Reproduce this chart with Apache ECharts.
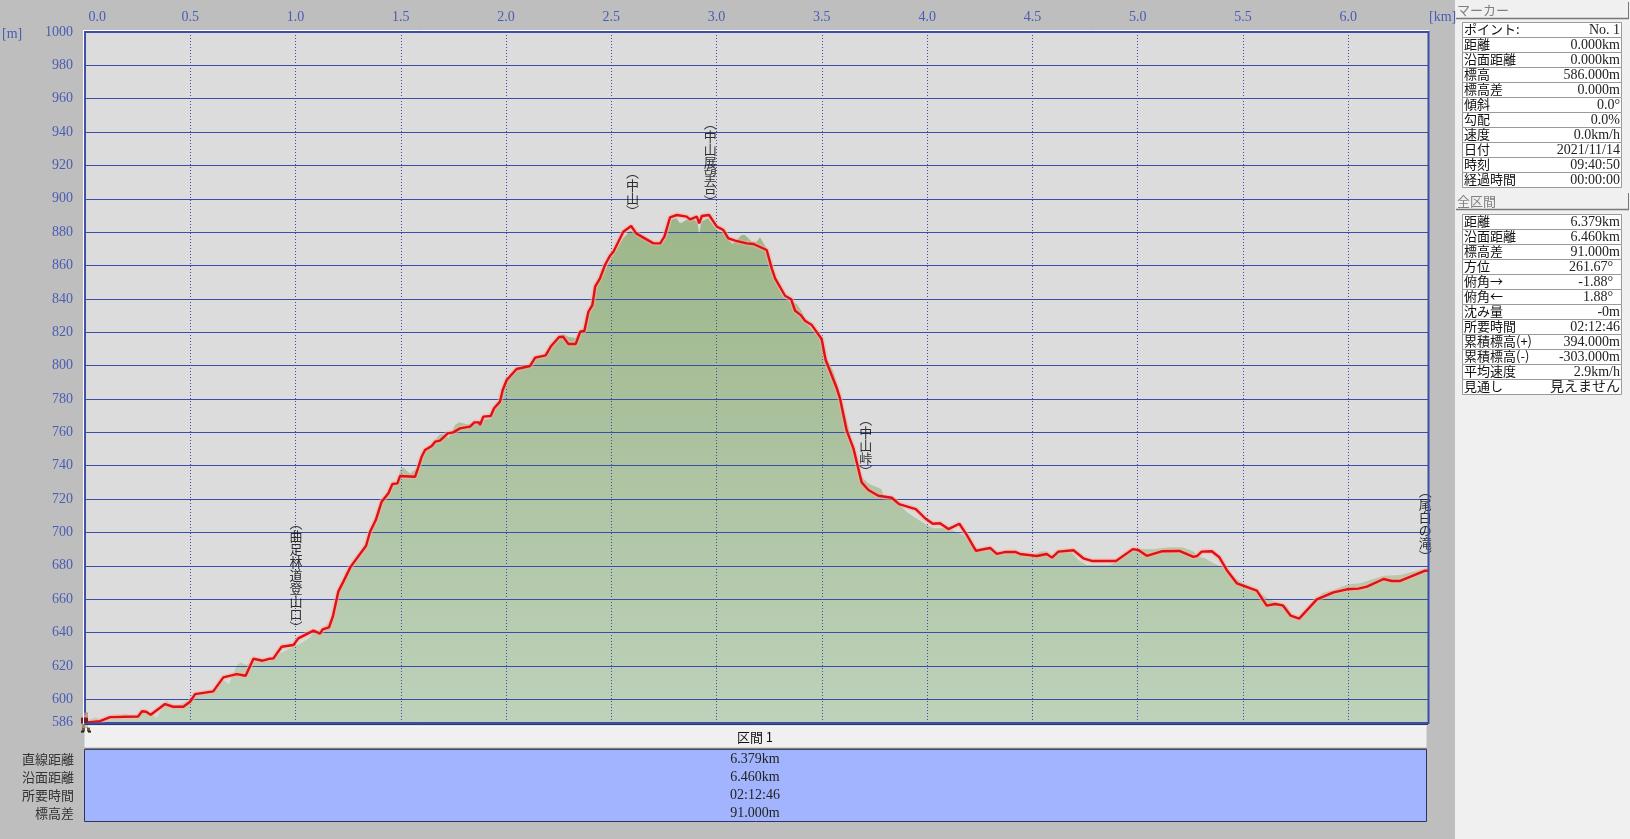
<!DOCTYPE html>
<html>
<head>
<meta charset="utf-8">
<title>profile</title>
<style>
	html,body{margin:0;padding:0;background:#bebebe;overflow:hidden}
	#chart{width:1630px;height:839px}
</style>
<script src="https://cdn.jsdelivr.net/npm/echarts@6/dist/echarts.min.js"></script>
</head>
<body>
<div id="chart"></div>
<script>
// track line: [km, m]
var routeKm=[0,.071,.119,.252,.271,.290,.312,.380,.419,.467,.499,.523,.609,.657,.721,.763,.800,.844,.879,.895,.934,.990,1.013,1.085,1.116,1.129,1.159,1.177,1.203,1.227,1.262,1.335,1.354,1.381,1.409,1.441,1.460,1.484,1.496,1.568,1.583,1.599,1.615,1.647,1.663,1.686,1.723,1.749,1.781,1.829,1.849,1.872,1.876,1.892,1.927,1.943,1.971,1.984,2.003,2.050,2.114,2.138,2.188,2.214,2.252,2.271,2.296,2.331,2.352,2.372,2.391,2.410,2.423,2.446,2.470,2.494,2.510,2.557,2.594,2.618,2.700,2.732,2.752,2.779,2.811,2.858,2.874,2.906,2.917,2.930,2.964,3.001,3.032,3.056,3.088,3.143,3.175,3.238,3.262,3.278,3.325,3.354,3.373,3.400,3.420,3.452,3.499,3.518,3.571,3.586,3.618,3.650,3.689,3.721,3.768,3.832,3.867,3.946,3.990,4.027,4.061,4.101,4.153,4.188,4.232,4.267,4.299,4.331,4.373,4.418,4.441,4.521,4.568,4.593,4.623,4.695,4.742,4.782,4.897,4.977,5.003,5.043,5.114,5.198,5.265,5.283,5.304,5.352,5.388,5.423,5.471,5.566,5.613,5.653,5.689,5.727,5.767,5.851,5.930,5.994,6.049,6.089,6.168,6.207,6.247,6.366,6.379];
var routeElev=[586,586.9,589.3,589.7,592.8,592.5,590.7,597.1,595.5,595.5,598.5,603.1,604.7,613.1,615.1,614.1,624.3,623.1,624.3,624.5,631.5,632.5,636.5,641.1,639.3,641.9,643.1,649.5,664.5,670.5,679.5,692,700.4,707.4,718.4,723.5,729,729.4,733.8,733.4,739,745.4,749.4,751.8,754.4,755,759.4,760,762.4,763.4,766,766,764.4,769.4,769.8,774.4,778.4,785.4,791.4,798,799.8,804.8,806.1,811.8,817.2,817.3,813,813,820.3,820.9,832.3,836.3,847.3,852.3,860.3,865.9,868.3,880.3,883.7,879.3,873.3,873.3,877.3,888.9,890.3,889.3,887.7,889.3,885.3,889.7,890.3,883.3,881.3,876.3,874.9,873.3,872.9,869.3,858.3,852.3,841.9,839.8,832.9,830.3,826.9,824.3,816,803.4,786.4,780.4,761,750.4,730,725.4,722,720.8,717,714,708.5,705.2,705.5,702,705.2,698.5,688.9,689.9,690.7,687.1,688.3,688.3,687.1,685.9,687.1,684.9,688.5,689.3,684.5,682.9,682.9,690,689.5,686,688.7,688.9,685.3,685.9,688.5,688.7,685.1,677.5,669.5,665.1,656.1,657.1,656.3,650.1,648.3,659.9,664.1,665.9,666.3,667.5,672.1,670.9,670.9,677.1,677];

// ground under the track
var groundKm=[0,.048,.086,.119,.166,.190,.214,.252,.276,.309,.341,.388,.418,.467,.499,.523,.608,.626,.656,.684,.721,.740,.768,.792,.879,.893,.934,.988,1.021,1.069,1.093,1.129,1.178,1.203,1.227,1.262,1.335,1.354,1.381,1.409,1.441,1.460,1.484,1.496,1.512,1.544,1.576,1.599,1.623,1.663,1.686,1.710,1.726,1.758,1.777,1.813,1.845,1.876,1.891,1.927,1.943,1.971,1.984,2.003,2.050,2.114,2.138,2.188,2.214,2.252,2.271,2.296,2.331,2.352,2.372,2.391,2.423,2.470,2.508,2.556,2.589,2.618,2.699,2.732,2.752,2.787,2.811,2.823,2.836,2.866,2.888,2.910,2.918,2.926,2.959,3.001,3.032,3.075,3.088,3.119,3.135,3.167,3.190,3.206,3.233,3.240,3.270,3.317,3.349,3.381,3.405,3.420,3.499,3.523,3.555,3.586,3.674,3.689,3.721,3.784,3.792,3.832,3.911,3.998,4.028,4.093,4.172,4.232,4.299,4.331,4.418,4.489,4.536,4.568,4.593,4.623,4.679,4.719,4.758,4.869,4.916,4.977,5.035,5.075,5.107,5.154,5.217,5.265,5.289,5.320,5.360,5.415,5.463,5.502,5.566,5.629,5.709,5.732,5.767,5.851,5.875,5.928,6.001,6.056,6.168,6.247,6.358,6.379];
var groundElev=[586,589.2,586.9,588.9,589.5,591.5,589.9,589.5,591.7,591.7,588.9,599.5,595.3,597.7,599.5,602.5,604.5,606.7,611.5,609.1,620.5,622.1,620.5,622.5,623.1,624.1,627.9,631.5,633.1,637.1,640.9,641.9,649.3,664.5,670.5,679.5,692,700.4,707.4,718.4,723.5,729,729.4,737.4,739,735.4,738.4,745.2,750.6,755.4,758.8,758.8,756.4,764.4,766,764.8,765.4,766.4,767.4,768.4,774.4,778.4,785.4,791.4,798,799.8,804.8,806.1,811.8,817.2,819,817.3,816.6,820.3,820.9,832.3,845.3,857.3,866.3,876.3,880.9,879.5,872.3,872.9,875.3,887.7,888.3,885.7,885.7,888.3,888.3,885.5,878.3,886.3,888.3,881.3,879.3,872.9,874.3,878.3,878.3,874.3,874.3,876.9,871.3,868.3,853.3,841.3,838.3,836.9,832.3,826.3,815.3,804.4,796.4,783.4,738.4,733.4,729.4,725.9,722.4,720.5,711.5,704.4,702.5,702.5,698.5,690.5,690.7,687.1,688.3,685.1,688.5,688.5,684.9,688.5,688.9,683.5,680.5,680.5,683.5,690,690,689.9,690.5,691.1,690.9,688.5,685.5,684.5,681.5,678.5,672.5,669.5,665.1,659.5,655.9,650.5,647.5,659.5,663.5,665.5,668.9,669.5,674,674.5,678,677.5];

var yTicks=[586,600,620,640,660,680,700,720,740,760,780,800,820,840,860,880,900,920,940,960,980,1000];

// place names, anchored at the foot of the upright text
var placeNames=["曲足林道登山口","中山","中山展望台","中山峠","尾白の滝"];
var placeKm=[1.002,2.6,2.97,3.708,6.366];
var placeElev=[639.5,888.5,894.5,733,682];

var markerKeys=["ポイント:","距離","沿面距離","標高","標高差","傾斜","勾配","速度","日付","時刻","経過時間"];
var markerVals=["No. 1","0.000km","0.000km","586.000m","0.000m","0.0°","0.0%","0.0km/h","2021/11/14","09:40:50","00:00:00"];
var totalKeys=["距離","沿面距離","標高差","方位","俯角→","俯角←","沈み量","所要時間","累積標高(+)","累積標高(-)","平均速度","見通し"];
var totalVals=["6.379km","6.460km","91.000m","261.67°","-1.88°","1.88°","-0m","02:12:46","394.000m","-303.000m","2.9km/h","見えません"];
var sectionKeys=["直線距離","沿面距離","所要時間","標高差"];
var sectionVals=["6.379km","6.460km","02:12:46","91.000m"];

var BLUE="#3a4ea8";
var LABEL="#4a5cb4";
var FONT='"Liberation Serif","Noto Sans CJK JP",serif';
var JP='"Noto Sans CJK JP",sans-serif';

function zip(xs,ys){
	var out=[];
	for(var i=0;i<xs.length;i++){out.push([xs[i],ys[i]]);}
	return out;
}

function rect(x,y,w,h,fill,stroke){
	return {type:"rect",silent:true,shape:{x:x,y:y,width:w,height:h},style:{fill:fill,stroke:stroke||null,lineWidth:stroke?1:0}};
}
function text(t,x,y,align,color,font){
	return {type:"text",silent:true,style:{text:t,x:x,y:y,align:align,verticalAlign:"middle",fill:color,font:font||("13px "+JP)}};
}
function line(x1,y1,x2,y2,color,w){
	return {type:"line",silent:true,z:20,shape:{x1:x1,y1:y1,x2:x2,y2:y2},style:{stroke:color,lineWidth:w}};
}

// side table: one bordered row per key
function panel(els,title,titleY,top,keys,vals){
	els.push(rect(1456.5,titleY,172,16,"#f0f0f0"));
	els.push(line(1456,titleY+16.5,1629,titleY+16.5,"#777",1.5));
	els.push(line(1628.5,titleY,1628.5,titleY+17,"#777",1));
	els.push(text(title,1457,titleY+8.5,"left","#808080"));
	for(var i=0;i<keys.length;i++){
		var y=top+i*15;
		els.push(rect(1462.5,y+.5,159,15,"#fff","#9a9a9a"));
		els.push(text(keys[i],1464,y+7.5,"left","#111"));
		els.push(text(vals[i],vals[i].indexOf(".")>0&&vals[i].slice(-1)=="°"&&top>100?1613:1620,y+8.5,"right","#222","14px "+FONT));
	}
}

function buildGraphic(){
	var els=[];
	els.push(rect(1455,0,175,839,"#f0f0f0"));
	panel(els,"マーカー",2,22,markerKeys,markerVals);
	panel(els,"全区間",193,214,totalKeys,totalVals);

	// section table under the plot
	els.push(rect(84.5,726,1342,22,"#f0f0f0"));
	els.push(line(85,726,1427,726,"#fff",1));
	els.push(line(84.5,724.5,1428,724.5,"#2a2a40",1));
	els.push(line(84.5,748.5,1427,748.5,"#808080",1.5));
	els.push(text("区間 1",755,737,"center","#111"));
	els.push(rect(84.5,749.5,1342,72,"#a3b4ff","#2a3560"));
	for(var i=0;i<sectionKeys.length;i++){
		var y=759+i*18;
		els.push(text(sectionKeys[i],74,y,"right","#333"));
		els.push(text(sectionVals[i],755,y,"center","#222","14px "+FONT));
	}

	els.push(text("[m]",2,34,"left",LABEL,"14px "+FONT));
	els.push(text("[km]",1429,17,"left",LABEL,"14px "+FONT));

	// plot frame
	els.push(line(83.5,30,83.5,724,"#fff",1));
	els.push(line(83,30.5,1429,30.5,"#fff",1));
	els.push(line(1428.5,31,1428.5,724,BLUE,2));
	els.push(line(85,723.5,1428,723.5,BLUE,2));
	return els;
}

var chart=echarts.init(document.getElementById("chart"));
var option={
	animation:false,
	backgroundColor:"#bebebe",
	graphic:buildGraphic(),
	grid:{left:85,top:32,right:202,bottom:116.4,show:true,backgroundColor:"#dcdcdc",borderWidth:0},
	xAxis:{
		type:"value",position:"top",min:0,max:6.379,interval:.5,z:2,
		axisLine:{onZero:false,lineStyle:{color:BLUE,width:2}},
		axisTick:{show:false},
		axisLabel:{
			showMaxLabel:false,alignMinLabel:"left",margin:8,color:LABEL,fontFamily:FONT,fontSize:14,
			formatter:function(v){return (v==0?" ":"")+v.toFixed(1);}
		},
		splitLine:{show:true,lineStyle:{color:BLUE,width:1,type:[1,2]}}
	},
	yAxis:{
		type:"value",min:586,max:1000,z:2,
		axisLine:{show:true,onZero:false,lineStyle:{color:BLUE,width:2,type:[1,1]}},
		axisTick:{show:false,customValues:yTicks},
		axisLabel:{
			customValues:yTicks,margin:12,color:LABEL,fontFamily:FONT,fontSize:14,
			formatter:function(v){return String(v);}
		},
		splitLine:{show:true,lineStyle:{color:BLUE,width:1.2,type:"solid"}}
	},
	series:[
		{
			type:"line",z:1,data:zip(groundKm,groundElev),symbol:"none",lineStyle:{width:0},
			areaStyle:{opacity:1,color:new echarts.graphic.LinearGradient(0,0,0,1,[{offset:0,color:"#9db689"},{offset:1,color:"#bed1ba"}])}
		},
		{type:"line",z:3,data:zip(routeKm,routeElev),symbol:"none",silent:true,lineStyle:{color:"rgba(255,170,150,0.5)",width:5.5}},
		{type:"line",z:4,data:zip(routeKm,routeElev),symbol:"none",lineStyle:{color:"#de1018",width:2.4}},
		{
			type:"scatter",z:5,symbolSize:0,silent:true,
			data:placeKm.map(function(k,i){return {value:[k,placeElev[i]],name:placeNames[i]};}),
			label:{
				show:true,position:"top",distance:0,color:"#000",fontFamily:JP,fontSize:13,lineHeight:13,
				formatter:function(p){return "︵\n"+p.name.split("").join("\n")+"\n︶";}
			}
		},
		{
			// walker at the current marker
			type:"custom",z:6,silent:true,clip:false,data:[[routeKm[0],routeElev[0]]],
			renderItem:function(params,api){
				var p=api.coord([api.value(0),api.value(1)]);
				var parts=[[-2,-10,5,2,"#b08a70"],[-1,-8,4,3,"#c89a80"],[-4,-5,7,6,"#7a1a28"],[-3,1,6,4,"#a08a68"],[-3,5,3,4,"#6a5a40"],[2,5,3,4,"#6a5a40"],[-4,8,3,2,"#2a2018"],[3,8,3,2,"#2a2018"]];
				return {type:"group",children:parts.map(function(r){
					return {type:"rect",shape:{x:p[0]+r[0],y:p[1]+r[1],width:r[2],height:r[3]},style:{fill:r[4]}};
				})};
			}
		}
	]
};
chart.setOption(option);
</script>
</body>
</html>
